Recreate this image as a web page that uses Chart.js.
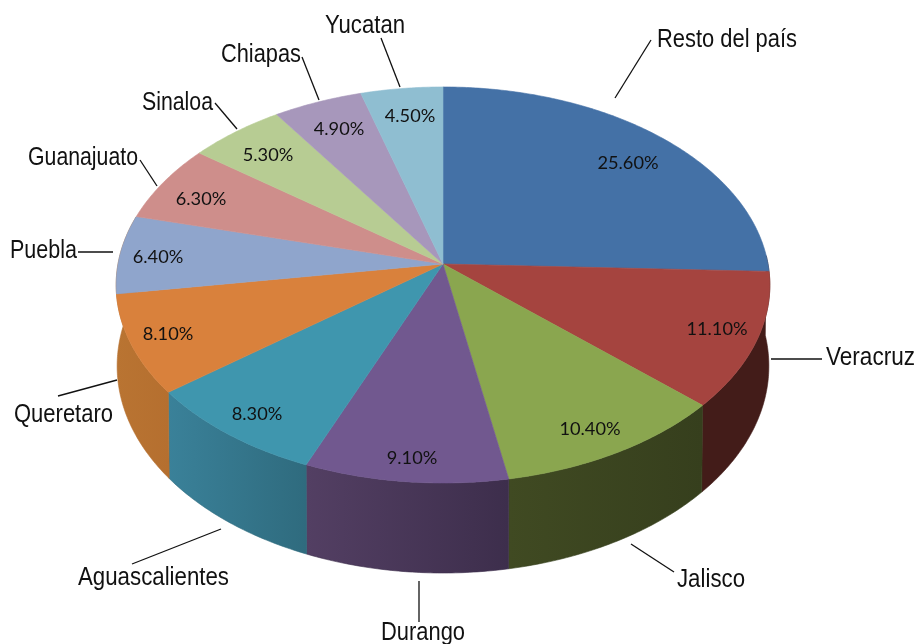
<!DOCTYPE html>
<html>
<head>
<meta charset="utf-8">
<title>Pie</title>
<script src="https://cdn.jsdelivr.net/npm/chart.js@4"></script>
<style>
  html, body { margin: 0; padding: 0; background: #fff; }
  canvas { display: block; }
</style>
</head>
<body>
<canvas id="myChart" width="915" height="644"></canvas>
<script>
const estados = ['Resto del país', 'Veracruz', 'Jalisco', 'Durango', 'Aguascalientes', 'Queretaro', 'Puebla', 'Guanajuato', 'Sinaloa', 'Chiapas', 'Yucatan'];
const porcentajes = [25.6, 11.1, 10.4, 9.1, 8.3, 8.1, 6.4, 6.3, 5.3, 4.9, 4.5];
const colores = ['#4471A6', '#A5443F', '#8AA64F', '#71588F', '#3F96AE', '#D9813C', '#8FA5CC', '#CE8E8B', '#B7CC93', '#A797BB', '#8FBED1'];

// lado visible de cada rebanada: [color izquierda, color derecha]
const lados = {
  1: ['#431C19', '#431C19'],
  2: ['#404A22', '#363F1D'],
  3: ['#533F63', '#3D2E4C'],
  4: ['#3A8199', '#2F6B7E'],
  5: ['#B97432', '#B56F2F']
};

// [x, linea base, ancho]
const posEstados = [
  [657, 47, 140], [826, 365, 89], [677, 587, 68], [381, 640, 84], [78, 585, 151], [14, 422, 99],
  [10, 258, 67], [28, 165, 110], [142, 110, 71], [221, 62, 80], [325, 33, 80]
];
const posPorcentajes = [
  [628, 163], [717, 329], [590, 429], [412, 458], [257, 414], [168, 334],
  [158, 257], [201, 199], [268, 155], [339, 129], [410, 116]
];
const guias = [
  [615, 98, 651, 40], [771, 359, 822, 359], [631, 544, 674, 572], [419, 581, 419, 622], [221, 529, 132, 564], [117, 380, 58, 396],
  [78, 252, 113, 252], [140, 160, 157, 186], [215, 103, 237, 129], [302, 57, 319, 100], [381, 38, 400, 87]
];

// perspectiva del disco
const cx = 443, cy = 264, rx = 325, ry = 195.8, k = 0.106;

function arriba(a) {
  const t = a + Math.PI / 2;
  const u = Math.sin(t), d = Math.cos(t);
  const s = 1 / (1 + k * d);
  return { x: cx + rx * u * s, y: cy - ry * d * s, d: d };
}

function abajo(a) {
  const p = arriba(a);
  return { x: cx + (p.x - cx) * 0.997, y: p.y + 80 - 10 * p.d };
}

function pasos(a0, a1) {
  const lista = [];
  const n = Math.max(2, Math.ceil((a1 - a0) / 0.01));
  for (let i = 0; i <= n; i++) lista.push(a0 + (a1 - a0) * i / n);
  return lista;
}

const pie3d = {
  id: 'pie3d',
  beforeDatasetsDraw(chart) {
    const ctx = chart.ctx;
    const arcos = chart.getDatasetMeta(0).data;

    // lados primero, la cara de arriba los tapa
    Object.keys(lados).forEach(key => {
      const i = Number(key);
      let a0 = arcos[i].startAngle, a1 = arcos[i].endAngle;
      if (i === 1) a0 -= 0.08;
      if (i === 5) a1 += 0.4;
      const lista = pasos(a0, a1);
      const sup = lista.map(arriba), inf = lista.map(abajo);
      const xs = sup.concat(inf).map(p => p.x);
      const grad = ctx.createLinearGradient(Math.min(...xs), 0, Math.max(...xs), 0);
      grad.addColorStop(0, lados[i][0]);
      grad.addColorStop(1, lados[i][1]);
      ctx.beginPath();
      sup.forEach((p, j) => j ? ctx.lineTo(p.x, p.y) : ctx.moveTo(p.x, p.y));
      inf.reverse().forEach(p => ctx.lineTo(p.x, p.y));
      ctx.closePath();
      ctx.fillStyle = grad;
      ctx.strokeStyle = lados[i][1];
      ctx.lineWidth = 0.6;
      ctx.fill();
      ctx.stroke();
    });

    arcos.forEach(arco => {
      ctx.beginPath();
      ctx.moveTo(cx, cy);
      pasos(arco.startAngle, arco.endAngle).map(arriba).forEach(p => ctx.lineTo(p.x, p.y));
      ctx.closePath();
      ctx.fillStyle = arco.options.backgroundColor;
      ctx.strokeStyle = arco.options.backgroundColor;
      ctx.lineWidth = 0.6;
      ctx.fill();
      ctx.stroke();
    });
    return false;
  },
  // afterDatasetsDraw no corre si beforeDatasetsDraw devuelve false
  afterDraw(chart) {
    const ctx = chart.ctx;
    ctx.strokeStyle = '#111';
    ctx.lineWidth = 1.3;
    guias.forEach(g => {
      ctx.beginPath();
      ctx.moveTo(g[0], g[1]);
      ctx.lineTo(g[2], g[3]);
      ctx.stroke();
    });

    ctx.textBaseline = 'alphabetic';
    ctx.textAlign = 'left';
    ctx.fillStyle = '#111';
    ctx.font = '25px "Liberation Sans"';
    estados.forEach((nombre, i) => {
      const p = posEstados[i];
      ctx.fillText(nombre, p[0], p[1], p[2]);
    });

    ctx.textAlign = 'center';
    ctx.textBaseline = 'middle';
    ctx.font = '18.2px Lato';
    porcentajes.forEach((valor, i) => {
      const p = posPorcentajes[i];
      ctx.fillText(valor.toFixed(2) + '%', p[0], p[1]);
    });
  }
};

new Chart(document.getElementById('myChart').getContext('2d'), {
  type: 'pie',
  data: {
    labels: estados,
    datasets: [{ data: porcentajes, backgroundColor: colores, borderWidth: 0 }]
  },
  options: {
    responsive: false,
    animation: false,
    events: [],
    plugins: { legend: { display: false }, tooltip: { enabled: false } }
  },
  plugins: [pie3d]
});
</script>
</body>
</html>
